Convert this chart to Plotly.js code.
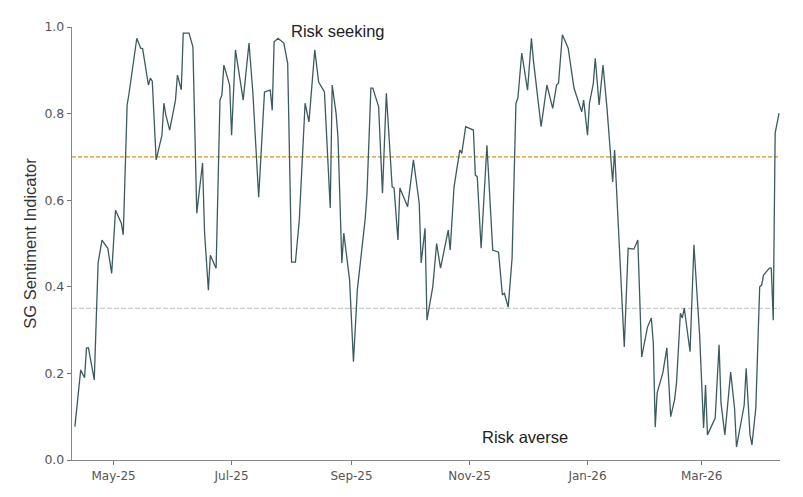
<!DOCTYPE html>
<html>
<head>
<meta charset="utf-8">
<script src="https://cdn.plot.ly/plotly-3.0.1.min.js"></script>
<style>html,body{margin:0;padding:0;background:#fff;}#chart{width:803px;height:497px;}</style>
</head>
<body>
<div id="chart"></div>
<script>
const dates = [
"2025-04-11","2025-04-14","2025-04-16","2025-04-17","2025-04-18","2025-04-21","2025-04-23","2025-04-25","2025-04-28","2025-04-30",
"2025-05-02","2025-05-05","2025-05-06","2025-05-08","2025-05-09","2025-05-13","2025-05-15","2025-05-16","2025-05-19","2025-05-20",
"2025-05-21","2025-05-23","2025-05-26","2025-05-27","2025-05-28","2025-05-30","2025-06-02","2025-06-03","2025-06-05","2025-06-06",
"2025-06-09","2025-06-11","2025-06-13","2025-06-16","2025-06-17","2025-06-19","2025-06-20","2025-06-23","2025-06-25","2025-06-26",
"2025-06-27","2025-06-30","2025-07-01","2025-07-03","2025-07-07","2025-07-10","2025-07-12","2025-07-15","2025-07-18","2025-07-21",
"2025-07-22","2025-07-23","2025-07-25","2025-07-28","2025-07-30","2025-08-01","2025-08-03","2025-08-05","2025-08-08","2025-08-10",
"2025-08-13","2025-08-15","2025-08-18","2025-08-21","2025-08-22","2025-08-24","2025-08-25","2025-08-27","2025-08-28","2025-08-31",
"2025-09-02","2025-09-04","2025-09-08","2025-09-09","2025-09-11","2025-09-12","2025-09-15","2025-09-17","2025-09-19","2025-09-22",
"2025-09-23","2025-09-25","2025-09-26","2025-09-30","2025-10-03","2025-10-06","2025-10-07","2025-10-09","2025-10-10","2025-10-13",
"2025-10-15","2025-10-17","2025-10-21","2025-10-22","2025-10-24","2025-10-27","2025-10-28","2025-10-30","2025-11-03","2025-11-04",
"2025-11-05","2025-11-07","2025-11-10","2025-11-13","2025-11-16","2025-11-18","2025-11-19","2025-11-21","2025-11-23","2025-11-25",
"2025-11-26","2025-11-28","2025-12-01","2025-12-03","2025-12-04","2025-12-08","2025-12-11","2025-12-14","2025-12-16","2025-12-17",
"2025-12-19","2025-12-22","2025-12-25","2025-12-29","2025-12-30","2026-01-01","2026-01-02","2026-01-04","2026-01-05","2026-01-07",
"2026-01-09","2026-01-11","2026-01-14","2026-01-15","2026-01-20","2026-01-22","2026-01-25","2026-01-27","2026-01-29","2026-02-01",
"2026-02-03","2026-02-04","2026-02-05","2026-02-06","2026-02-09","2026-02-11","2026-02-13","2026-02-15","2026-02-16","2026-02-18",
"2026-02-19","2026-02-20","2026-02-23","2026-02-25","2026-02-28","2026-03-02","2026-03-03","2026-03-04","2026-03-08","2026-03-10",
"2026-03-11","2026-03-13","2026-03-16","2026-03-18","2026-03-19","2026-03-23","2026-03-24","2026-03-26","2026-03-27","2026-03-29",
"2026-03-31","2026-04-01","2026-04-02","2026-04-05","2026-04-06","2026-04-07","2026-04-08","2026-04-10"
];
const sentiment = [
0.077,0.208,0.19,0.259,0.259,0.185,0.455,0.508,0.489,0.431,
0.577,0.547,0.52,0.82,0.847,0.974,0.951,0.95,0.866,0.882,
0.875,0.693,0.75,0.824,0.797,0.762,0.831,0.889,0.855,0.986,
0.986,0.954,0.57,0.686,0.527,0.392,0.473,0.443,0.831,0.843,
0.912,0.866,0.75,0.947,0.831,0.963,0.848,0.607,0.85,0.854,
0.808,0.966,0.974,0.963,0.916,0.457,0.457,0.554,0.824,0.781,
0.947,0.873,0.85,0.582,0.866,0.801,0.746,0.455,0.524,0.416,
0.227,0.393,0.554,0.616,0.859,0.859,0.816,0.616,0.847,0.631,
0.628,0.508,0.628,0.585,0.693,0.593,0.455,0.535,0.323,0.4,
0.5,0.443,0.531,0.485,0.631,0.716,0.708,0.77,0.762,0.658,
0.654,0.489,0.727,0.485,0.48,0.381,0.385,0.353,0.466,0.824,
0.836,0.94,0.854,0.974,0.924,0.77,0.866,0.812,0.866,0.87,
0.982,0.951,0.859,0.804,0.831,0.75,0.824,0.87,0.928,0.82,
0.912,0.816,0.642,0.716,0.261,0.489,0.487,0.508,0.238,0.307,
0.328,0.27,0.076,0.155,0.203,0.259,0.1,0.139,0.178,0.339,
0.328,0.351,0.25,0.497,0.284,0.074,0.173,0.058,0.097,0.266,
0.132,0.058,0.203,0.12,0.03,0.127,0.212,0.058,0.035,0.12,
0.4,0.404,0.427,0.443,0.443,0.323,0.755,0.801
];
const riskSeekingLevel = 0.7;
const riskAverseLevel = 0.35;
const xTickVals = ["2025-05-01","2025-07-01","2025-09-01","2025-11-01","2026-01-01","2026-03-01"];
const xTickText = ["May-25","Jul-25","Sep-25","Nov-25","Jan-26","Mar-26"];
const yTickVals = [0,0.2,0.4,0.6,0.8,1.0];
const yTickText = ["0.0","0.2","0.4","0.6","0.8","1.0"];
const xRange = ["2025-04-09 12:00","2026-04-10 12:00"];

const traces = [
  {x: xRange, y: [riskSeekingLevel, riskSeekingLevel], mode: "lines",
   line: {color: "#d4922e", width: 1.3, dash: "4px,2px"}, hoverinfo: "skip", showlegend: false},
  {x: xRange, y: [riskAverseLevel, riskAverseLevel], mode: "lines",
   line: {color: "#c9c9c9", width: 1.3, dash: "5px,2px"}, hoverinfo: "skip", showlegend: false},
  {x: dates, y: sentiment, mode: "lines",
   line: {color: "#3b5b5e", width: 1.3}, showlegend: false}
];

const layout = {
  width: 803, height: 497,
  margin: {l: 72, r: 23, t: 27, b: 37},
  paper_bgcolor: "#fff", plot_bgcolor: "#fff",
  showlegend: false,
  font: {family: "DejaVu Sans, sans-serif", color: "#555", size: 12},
  xaxis: {
    type: "date", range: xRange,
    tickvals: xTickVals, ticktext: xTickText,
    ticks: "outside", ticklen: 4, tickcolor: "#777", tickwidth: 1,
    showline: true, linecolor: "#888", linewidth: 1.2,
    showgrid: false, zeroline: false,
    tickfont: {family: "DejaVu Sans, sans-serif", size: 12, color: "#555"}
  },
  yaxis: {
    range: [0, 1],
    tickvals: yTickVals, ticktext: yTickText,
    ticks: "outside", ticklen: 4, tickcolor: "#777", tickwidth: 1,
    showline: true, linecolor: "#888", linewidth: 1.2,
    showgrid: false, zeroline: false,
    tickfont: {family: "DejaVu Sans, sans-serif", size: 12.5, color: "#555"},
    title: {text: "SG Sentiment Indicator", standoff: 3,
            font: {family: "Liberation Sans, Arial, sans-serif", size: 16.5, color: "#333"}}
  },
  annotations: [
    {xref: "paper", yref: "y", x: 0.375, y: 0.99, text: "Risk seeking", showarrow: false,
     font: {family: "Liberation Sans, Arial, sans-serif", size: 16.5, color: "#222"}},
    {xref: "paper", yref: "y", x: 0.64, y: 0.053, text: "Risk averse", showarrow: false,
     font: {family: "Liberation Sans, Arial, sans-serif", size: 16.5, color: "#222"}}
  ]
};

Plotly.newPlot("chart", traces, layout, {displayModeBar: false, staticPlot: true});
</script>
</body>
</html>
